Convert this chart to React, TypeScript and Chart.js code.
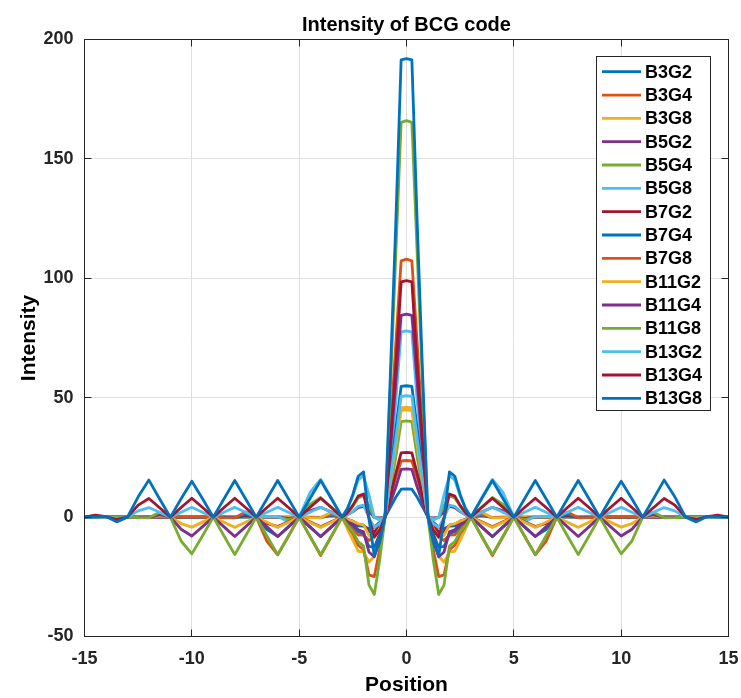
import { useEffect, useRef } from "react";
import Chart from "chart.js/auto";

const TITLE = "Intensity of BCG code";
const X_TITLE = "Position";
const Y_TITLE = "Intensity";

const X_TICKS = [-15, -10, -5, 0, 5, 10, 15];
const Y_TICKS = [-50, 0, 50, 100, 150, 200];

const POSITIONS = [
  -15, -14.5, -14, -13.5, -13, -12.5, -12, -11.5, -11, -10.5, -10, -9.5, -9, -8.5, -8, -7.5, -7, -6.5, -6, -5.5, -5, -4.5, -4, -3.5, -3,
  -2.75, -2.5, -2.25, -2, -1.75, -1.5, -1.25, -1, -0.75, -0.5, -0.25, 0, 0.25, 0.5, 0.75, 1, 1.25, 1.5, 1.75, 2, 2.25, 2.5, 2.75,
  3, 3.5, 4, 4.5, 5, 5.5, 6, 6.5, 7, 7.5, 8, 8.5, 9, 9.5, 10, 10.5, 11, 11.5, 12, 12.5, 13, 13.5, 14, 14.5, 15,
];

const B3G2 = [
  0, 0, 0, 0, 0, 0, 0, 0, 0, 0, 0, 0, 0, 0, 0, 0, 0, 0, 0, 0, 0, 0, -0.1, 0.5, 0,
  -1.3, -2.5, -3.7, -3.8, -4.9, -4.2, -2.2, 0, 4.2, 8.3, 11.7, 11.8, 11.7, 8.3, 4.2, 0, -2.2, -4.2, -4.9, -3.8, -3.7, -2.5, -1.3,
  0, 0.5, -0.1, 0, 0, 0, 0, 0, 0, 0, 0, 0, 0, 0, 0, 0, 0, 0, 0, 0, 0, 0, 0, 0, 0,
];
const B3G4 = [
  0, 0, 0, 0, 0, 0, 0, 0, 0, 0, 0, 0, 0, 0, 0, 0, 0, 0, 0, 0, 0, -0.1, -0.2, 1.1, 0,
  -2.6, -5.0, -7.4, -7.5, -9.8, -8.4, -4.5, 0, 8.3, 16.6, 23.5, 23.7, 23.5, 16.6, 8.3, 0, -4.5, -8.4, -9.8, -7.5, -7.4, -5.0, -2.6,
  0, 1.1, -0.2, -0.1, 0, 0, 0, 0, 0, 0, 0, 0, 0, 0, 0, 0, 0, 0, 0, 0, 0, 0, 0, 0, 0,
];
const B3G8 = [
  0, 0, 0, 0, 0, 0, 0, 0, 0, 0, 0, 0, 0, 0, 0, 0, 0, 0, 0, 0, 0, -0.2, -0.3, 2.1, 0,
  -5.0, -9.6, -14.3, -14.6, -18.9, -16.4, -8.7, 0, 16.1, 32.2, 45.7, 46, 45.7, 32.2, 16.1, 0, -8.7, -16.4, -18.9, -14.6, -14.3, -9.6, -5.0,
  0, 2.1, -0.3, -0.2, 0, 0, 0, 0, 0, 0, 0, 0, 0, 0, 0, 0, 0, 0, 0, 0, 0, 0, 0, 0, 0,
];
const B5G2 = [
  0, 0, 0, 0, 0, 0, 0, 0, 0, 0, 0, 0, 0, 0, 0, 0, 0, 0, 0.1, -0.5, 0, 2.6, 4.1, 2.1, 0,
  1.0, 2.3, 4.0, 4.5, 2.4, -0.1, -0.3, 0, 6.1, 12.5, 20.0, 20.2, 20.0, 12.5, 6.1, 0, -0.3, -0.1, 2.4, 4.5, 4.0, 2.3, 1.0,
  0, 2.1, 4.1, 2.6, 0, -0.5, 0.1, 0, 0, 0, 0, 0, 0, 0, 0, 0, 0, 0, 0, 0, 0, 0, 0, 0, 0,
];
const B5G4 = [
  0, 0, 0, 0, 0, 0, 0, 0, 0, 0, 0, 0, 0, 0, 0, 0, 0, 0.1, 0.2, -1.1, 0, 5.3, 8.2, 4.1, 0,
  1.9, 4.5, 8.0, 9.0, 4.8, -0.1, -0.6, 0, 12.2, 25.0, 40.0, 40.3, 40.0, 25.0, 12.2, 0, -0.6, -0.1, 4.8, 9.0, 8.0, 4.5, 1.9,
  0, 4.1, 8.2, 5.3, 0, -1.1, 0.2, 0.1, 0, 0, 0, 0, 0, 0, 0, 0, 0, 0, 0, 0, 0, 0, 0, 0, 0,
];
const B5G8 = [
  0, 0, 0, 0, 0, 0, 0, 0, 0, 0, 0, 0, 0, 0, 0, 0, 0, 0.2, 0.3, -2.1, 0, 10.2, 15.8, 8.0, 0,
  3.7, 8.8, 15.5, 17.4, 9.3, -0.2, -1.2, 0, 23.6, 48.4, 77.6, 78, 77.6, 48.4, 23.6, 0, -1.2, -0.2, 9.3, 17.4, 15.5, 8.8, 3.7,
  0, 8.0, 15.8, 10.2, 0, -2.1, 0.3, 0.2, 0, 0, 0, 0, 0, 0, 0, 0, 0, 0, 0, 0, 0, 0, 0, 0, 0,
];
const B7G2 = [
  0, 0, 0, 0, 0, 0, 0, 0, 0, 0, 0, 0, 0, 0, -0.1, 0.5, 0, -2.6, -4.0, -2.0, 0, -2.0, -4.1, -2.0, 0,
  -0.9, -1.7, -3.0, -3.4, -6.1, -6.3, -3.4, 0, 9.0, 18.2, 26.9, 27.1, 26.9, 18.2, 9.0, 0, -3.4, -6.3, -6.1, -3.4, -3.0, -1.7, -0.9,
  0, -2.0, -4.1, -2.0, 0, -2.0, -4.0, -2.6, 0, 0.5, -0.1, 0, 0, 0, 0, 0, 0, 0, 0, 0, 0, 0, 0, 0, 0,
];
const B7G4 = [
  0, 0, 0, 0, 0, 0, 0, 0, 0, 0, 0, 0, 0, -0.1, -0.2, 1.1, 0, -5.2, -8.1, -4.1, 0, -4.1, -8.2, -4.1, 0,
  -1.9, -3.5, -6.0, -7.0, -12.3, -12.7, -7.0, 0, 18.3, 36.9, 54.7, 55, 54.7, 36.9, 18.3, 0, -7.0, -12.7, -12.3, -7.0, -6.0, -3.5, -1.9,
  0, -4.1, -8.2, -4.1, 0, -4.1, -8.1, -5.2, 0, 1.1, -0.2, -0.1, 0, 0, 0, 0, 0, 0, 0, 0, 0, 0, 0, 0, 0,
];
const B7G8 = [
  0, 0, 0, 0, 0, 0, 0, 0, 0, 0, 0, 0, 0, -0.2, -0.3, 2.1, 0, -10.2, -15.8, -8.0, 0, -8.1, -16.1, -8.1, 0,
  -3.7, -6.9, -11.8, -13.6, -24.2, -24.9, -13.6, 0, 36.0, 72.5, 107.3, 108, 107.3, 72.5, 36.0, 0, -13.6, -24.9, -24.2, -13.6, -11.8, -6.9, -3.7,
  0, -8.1, -16.1, -8.1, 0, -8.0, -15.8, -10.2, 0, 2.1, -0.3, -0.2, 0, 0, 0, 0, 0, 0, 0, 0, 0, 0, 0, 0, 0,
];
const B11G2 = [
  0, 0, 0, 0, 0, 0, -0.1, 0.6, 0, -2.7, -4.2, -2.1, 0, -2.2, -4.3, -2.2, 0, -2.2, -4.3, -2.2, 0, -2.2, -4.3, -2.2, 0,
  -1.0, -1.7, -2.8, -3.3, -7.7, -8.8, -4.9, 0, 14.8, 29.8, 44.6, 44.9, 44.6, 29.8, 14.8, 0, -4.9, -8.8, -7.7, -3.3, -2.8, -1.7, -1.0,
  0, -2.2, -4.3, -2.2, 0, -2.2, -4.3, -2.2, 0, -2.2, -4.3, -2.2, 0, -2.1, -4.2, -2.7, 0, 0.6, -0.1, 0, 0, 0, 0, 0, 0,
];
const B11G4 = [
  0, 0, 0, 0, 0, -0.1, -0.2, 1.0, 0, -5.1, -7.9, -4.0, 0, -4.1, -8.1, -4.1, 0, -4.1, -8.1, -4.1, 0, -4.1, -8.1, -4.1, 0,
  -1.9, -3.1, -5.3, -6.2, -14.6, -16.6, -9.3, 0, 27.9, 56.4, 84.5, 85, 84.5, 56.4, 27.9, 0, -9.3, -16.6, -14.6, -6.2, -5.3, -3.1, -1.9,
  0, -4.1, -8.1, -4.1, 0, -4.1, -8.1, -4.1, 0, -4.1, -8.1, -4.1, 0, -4.0, -7.9, -5.1, 0, 1.0, -0.2, -0.1, 0, 0, 0, 0, 0,
];
const B11G8 = [
  0, 0, 0, 0, 0, -0.2, -0.3, 2.0, 0, -10.0, -15.4, -7.8, 0, -7.9, -15.7, -7.9, 0, -7.9, -15.7, -7.9, 0, -7.9, -15.7, -7.9, 0,
  -3.6, -6.1, -10.3, -12.1, -28.4, -32.4, -18.1, 0, 54.4, 109.9, 165.3, 166, 165.3, 109.9, 54.4, 0, -18.1, -32.4, -28.4, -12.1, -10.3, -6.1, -3.6,
  0, -7.9, -15.7, -7.9, 0, -7.9, -15.7, -7.9, 0, -7.9, -15.7, -7.9, 0, -7.8, -15.4, -10.0, 0, 2.0, -0.3, -0.2, 0, 0, 0, 0, 0,
];
const B13G2 = [
  0, 0, 0.1, -0.5, 0, 2.6, 4.0, 2.0, 0, 2.0, 4.1, 2.0, 0, 2.0, 4.1, 2.0, 0, 2.0, 4.1, 2.0, 0, 2.0, 4.1, 2.0, 0,
  0.9, 2.5, 4.5, 5.0, -0.2, -4.3, -2.8, 0, 15.9, 32.5, 50.6, 50.9, 50.6, 32.5, 15.9, 0, -2.8, -4.3, -0.2, 5.0, 4.5, 2.5, 0.9,
  0, 2.0, 4.1, 2.0, 0, 2.0, 4.1, 2.0, 0, 2.0, 4.1, 2.0, 0, 2.0, 4.1, 2.0, 0, 2.0, 4.0, 2.6, 0, -0.5, 0.1, 0, 0,
];
const B13G4 = [
  0, 0.8, 0.2, -1.0, 0, 5.0, 7.8, 3.9, 0, 4.0, 7.9, 4.0, 0, 4.0, 7.9, 4.0, 0, 4.0, 7.9, 4.0, 0, 4.0, 7.9, 4.0, 0,
  1.8, 4.9, 8.8, 9.7, -0.3, -8.3, -5.5, 0, 31.0, 63.3, 98.5, 99, 98.5, 63.3, 31.0, 0, -5.5, -8.3, -0.3, 9.7, 8.8, 4.9, 1.8,
  0, 4.0, 7.9, 4.0, 0, 4.0, 7.9, 4.0, 0, 4.0, 7.9, 4.0, 0, 4.0, 7.9, 4.0, 0, 3.9, 7.8, 5.0, 0, -1.0, 0.2, 0.8, 0,
];
const B13G8 = [
  0, 0.1, 0.3, -2.0, 0, 8.5, 15.5, 7.6, 0, 7.7, 15.0, 7.7, 0, 7.7, 15.3, 7.7, 0, 7.7, 15.3, 7.7, 0, 7.7, 15.3, 7.7, 0,
  3.5, 9.5, 17.1, 18.9, -0.6, -16.2, -10.6, 0, 60.2, 122.8, 191.5, 192, 191.5, 122.8, 60.2, 0, -10.6, -16.2, -0.6, 18.9, 17.1, 9.5, 3.5,
  0, 7.7, 15.3, 7.7, 0, 7.7, 15.3, 7.7, 0, 7.7, 15.3, 7.7, 0, 7.7, 15.0, 7.7, 0, 7.6, 15.5, 8.5, 0, -2.0, 0.3, 0.1, 0,
];

const SERIES_NAMES = [
  "B3G2", "B3G4", "B3G8", "B5G2", "B5G4", "B5G8", "B7G2", "B7G4", "B7G8",
  "B11G2", "B11G4", "B11G8", "B13G2", "B13G4", "B13G8",
];
const SERIES_VALUES = [
  B3G2, B3G4, B3G8, B5G2, B5G4, B5G8, B7G2, B7G4, B7G8,
  B11G2, B11G4, B11G8, B13G2, B13G4, B13G8,
];
const PALETTE = ["#0072BD", "#D95319", "#EDB120", "#7E2F8E", "#77AC30", "#4DBEEE", "#A2142F"];

const FONT = "'Liberation Sans', Arial, Helvetica, sans-serif";
const INK = "#262626";
const GRID = "#dfdfdf";

const decorPlugin = {
  id: "decor",
  afterDatasetsDraw(chart: any) {
    const { ctx, chartArea: a, scales } = chart;
    const xs = scales.x;
    const ys = scales.y;
    const align = (p: number) => Math.round(p - 0.5) + 0.5;
    ctx.save();
    // axes box
    ctx.strokeStyle = INK;
    ctx.lineWidth = 1;
    ctx.strokeRect(a.left, a.top, a.right - a.left, a.bottom - a.top);
    // inward tick marks on all four sides
    const TL = 7;
    ctx.beginPath();
    for (const v of X_TICKS) {
      const px = align(xs.getPixelForValue(v));
      ctx.moveTo(px, a.bottom);
      ctx.lineTo(px, a.bottom - TL);
      ctx.moveTo(px, a.top);
      ctx.lineTo(px, a.top + TL);
    }
    for (const v of Y_TICKS) {
      const py = align(ys.getPixelForValue(v));
      ctx.moveTo(a.left, py);
      ctx.lineTo(a.left + TL, py);
      ctx.moveTo(a.right, py);
      ctx.lineTo(a.right - TL, py);
    }
    ctx.stroke();

    // legend box
    const lx = 596.5, ly = 56.5, lw = 114, lh = 354;
    ctx.fillStyle = "#ffffff";
    ctx.fillRect(lx, ly, lw, lh);
    ctx.strokeStyle = INK;
    ctx.lineWidth = 1;
    ctx.strokeRect(lx, ly, lw, lh);
    ctx.font = `bold 18px ${FONT}`;
    ctx.textAlign = "left";
    ctx.textBaseline = "middle";
    chart.data.datasets.forEach((ds: any, i: number) => {
      const y = 71.7 + i * 23.33;
      ctx.strokeStyle = ds.borderColor;
      ctx.lineWidth = 2.8;
      ctx.beginPath();
      ctx.moveTo(602, y);
      ctx.lineTo(641, y);
      ctx.stroke();
      ctx.fillStyle = "#000000";
      ctx.fillText(ds.label, 645, y + 1);
    });

    // titles
    ctx.fillStyle = "#000000";
    ctx.textAlign = "center";
    ctx.textBaseline = "alphabetic";
    ctx.font = `bold 20px ${FONT}`;
    ctx.fillText(TITLE, (a.left + a.right) / 2, 31);
    ctx.font = `bold 21px ${FONT}`;
    ctx.fillText(X_TITLE, (a.left + a.right) / 2, 691);
    ctx.save();
    ctx.translate(35, (a.top + a.bottom) / 2);
    ctx.rotate(-Math.PI / 2);
    ctx.fillText(Y_TITLE, 0, 0);
    ctx.restore();
    ctx.restore();
  },
};

export default function App() {
  const canvasRef = useRef<HTMLCanvasElement | null>(null);

  useEffect(() => {
    const canvas = canvasRef.current;
    if (!canvas) return;
    const datasets = SERIES_NAMES.map((name, i) => ({
      label: name,
      data: POSITIONS.map((x, j) => ({ x, y: SERIES_VALUES[i][j] })),
      borderColor: PALETTE[i % PALETTE.length],
      backgroundColor: PALETTE[i % PALETTE.length],
      borderWidth: 2.8,
      pointRadius: 0,
      tension: 0,
      fill: false,
      borderJoinStyle: "round" as const,
      borderCapStyle: "round" as const,
      order: SERIES_NAMES.length - 1 - i,
    }));

    const tickFont = { family: FONT, size: 18, weight: "bold" as const };
    const chart = new Chart(canvas, {
      type: "line",
      data: { datasets },
      options: {
        responsive: false,
        maintainAspectRatio: false,
        devicePixelRatio: 1,
        animation: false,
        layout: { padding: { top: 39.5, right: 12.5, left: 0, bottom: 0 } },
        plugins: {
          legend: { display: false },
          title: { display: false },
          tooltip: { enabled: false },
        },
        scales: {
          x: {
            type: "linear",
            min: -15,
            max: 15,
            afterBuildTicks: (s: any) => {
              s.ticks = X_TICKS.map((v) => ({ value: v }));
            },
            afterFit: (s: any) => {
              s.height = 61.5;
              s.paddingLeft = 0;
              s.paddingRight = 0;
            },
            ticks: {
              font: tickFont,
              color: INK,
              padding: 12,
              maxRotation: 0,
              autoSkip: false,
            },
            grid: { color: GRID, lineWidth: 1, drawTicks: false },
            border: { display: false },
          },
          y: {
            type: "linear",
            min: -50,
            max: 200,
            afterBuildTicks: (s: any) => {
              s.ticks = Y_TICKS.map((v) => ({ value: v }));
            },
            afterFit: (s: any) => {
              s.width = 84.5;
              s.paddingTop = 0;
              s.paddingBottom = 0;
            },
            ticks: {
              font: tickFont,
              color: INK,
              padding: 11,
            },
            grid: { color: GRID, lineWidth: 1, drawTicks: false },
            border: { display: false },
          },
        },
      },
      plugins: [decorPlugin],
    });
    return () => chart.destroy();
  }, []);

  return (
    <div style={{ position: "absolute", left: 0, top: 0, width: 741, height: 698, background: "#ffffff" }}>
      <canvas ref={canvasRef} width={741} height={698} style={{ display: "block", width: 741, height: 698 }} />
    </div>
  );
}
